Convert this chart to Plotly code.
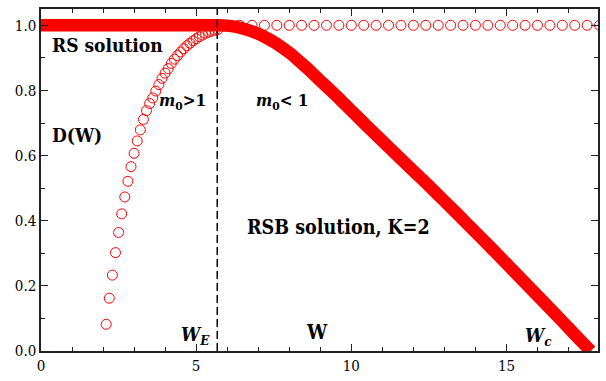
import plotly.graph_objects as go

# RSB solution (thick red curve)
rsb_w = [0.0, 5.68, 6.0, 6.25, 6.5, 6.75, 7.0, 7.25, 7.5, 7.75, 8.0, 8.25, 8.5, 8.75,
         9.0, 9.5, 10.0, 10.5, 11.0, 11.5, 12.0, 12.5, 13.0, 13.5, 14.0, 14.5, 15.0,
         15.5, 16.0, 16.5, 17.0, 17.5, 17.72]
rsb_d = [1.0, 1.0, 0.999, 0.996, 0.99, 0.983, 0.974, 0.962, 0.949, 0.933, 0.916, 0.896,
         0.875, 0.853, 0.830, 0.785, 0.738, 0.691, 0.645, 0.599, 0.553, 0.507, 0.460,
         0.413, 0.365, 0.317, 0.268, 0.219, 0.170, 0.121, 0.071, 0.021, 0.0]

# RS solution, m0>1 branch (open circles)
rs1_w = [2.1, 2.2, 2.3, 2.4, 2.5, 2.6, 2.7, 2.8, 2.9, 3.0, 3.1, 3.2, 3.3, 3.4, 3.5,
         3.6, 3.7, 3.8, 3.9, 4.0, 4.1, 4.2, 4.3, 4.4, 4.5, 4.6, 4.7, 4.8, 4.9, 5.0,
         5.1, 5.2, 5.3, 5.4, 5.5, 5.6, 5.7]
rs1_d = [0.082, 0.162, 0.233, 0.302, 0.364, 0.421, 0.473, 0.521, 0.566, 0.607, 0.645,
         0.679, 0.711, 0.738, 0.760, 0.777, 0.798, 0.818, 0.837, 0.853, 0.867, 0.883,
         0.896, 0.907, 0.918, 0.928, 0.937, 0.945, 0.952, 0.959, 0.965, 0.970, 0.975,
         0.979, 0.982, 0.985, 0.987]

# RS solution, m0<1 branch (open circles at D=1)
rs2_w = [6.0, 6.4, 6.8, 7.2, 7.6, 8.0, 8.4, 8.8, 9.2, 9.6, 10.0, 10.4, 10.8, 11.2,
         11.6, 12.0, 12.4, 12.8, 13.2, 13.6, 14.0, 14.4, 14.8, 15.2, 15.6, 16.0,
         16.4, 16.8, 17.2, 17.6, 18.0]
rs2_d = [1.0] * len(rs2_w)

w_e = 5.68
x_ticks = [0, 5, 10, 15]
y_ticks = [0.0, 0.2, 0.4, 0.6, 0.8, 1.0]

serif = "DejaVu Serif Condensed, DejaVu Serif, serif"
red = "#ff0000"

fig = go.Figure()
fig.add_trace(go.Scatter(x=rs1_w, y=rs1_d, mode="markers",
                         marker=dict(symbol="circle-open", size=10, color=red,
                                     line=dict(width=1)), showlegend=False))
fig.add_trace(go.Scatter(x=rs2_w, y=rs2_d, mode="markers",
                         marker=dict(symbol="circle-open", size=10, color=red,
                                     line=dict(width=1)), showlegend=False))
fig.add_trace(go.Scatter(x=rsb_w, y=rsb_d, mode="lines",
                         line=dict(color=red, width=12.5, shape="spline", smoothing=0.6,
                                   simplify=False),
                         showlegend=False))

fig.add_shape(type="line", x0=w_e, x1=w_e, y0=0, y1=1.05, xref="x", yref="y",
              line=dict(color="black", width=1.5, dash="8px,4px"), layer="above")

def ann(x, y, text, size):
    fig.add_annotation(x=x, y=y, xref="paper", yref="paper", text=text, showarrow=False,
                       font=dict(family=serif, size=size, color="black"),
                       xanchor="center", yanchor="middle")

# paper coords: plot area px l=41..600, t=9..355
def px(xp, yp):
    return (xp - 41) / (600 - 41), (355 - yp) / (355 - 9)

for (xp, yp, t, s) in [
    (108, 45, "<b>RS solution</b>", 19),
    (77, 136, "<b>D(W)</b>", 19),
    (183, 103, "<b><i>m</i><sub>0</sub>&gt;1</b>", 17),
    (283, 103, "<b><i>m</i><sub>0</sub>&lt; 1</b>", 17),
    (340, 230, "<b>RSB solution, K=2</b>", 19.5),
    (196, 339, "<b><i>W</i><sub><i>E</i></sub></b>", 19),
    (318, 336, "<b>W</b>", 20),
    (540, 340, "<b><i>W</i><sub><i>c</i></sub></b>", 19),
]:
    xx, yy = px(xp, yp)
    ann(xx, yy, t, s)

axis_common = dict(showgrid=False, zeroline=False, showline=True, linecolor="#222",
                   linewidth=1.5, mirror="allticks", ticks="inside", ticklen=7,
                   tickwidth=1.2, tickcolor="#222",
                   tickfont=dict(family=serif, size=15, color="black"))

fig.update_xaxes(range=[0, 17.95], tickvals=x_ticks, ticktext=[str(v) for v in x_ticks],
                 minor=dict(dtick=1, tick0=0, ticks="inside", ticklen=4, tickcolor="#222",
                            tickwidth=1.2),
                 **axis_common)
fig.update_yaxes(range=[0, 1.05], tickvals=y_ticks, ticktext=[f"{v:.1f}" for v in y_ticks],
                 minor=dict(dtick=0.1, tick0=0, ticks="inside", ticklen=4, tickcolor="#222",
                            tickwidth=1.2),
                 **axis_common)

fig.update_layout(width=606, height=381, margin=dict(l=41, r=6, t=9, b=26),
                  font=dict(family=serif),
                  plot_bgcolor="white", paper_bgcolor="white", showlegend=False)

fig.write_html("out.html")
